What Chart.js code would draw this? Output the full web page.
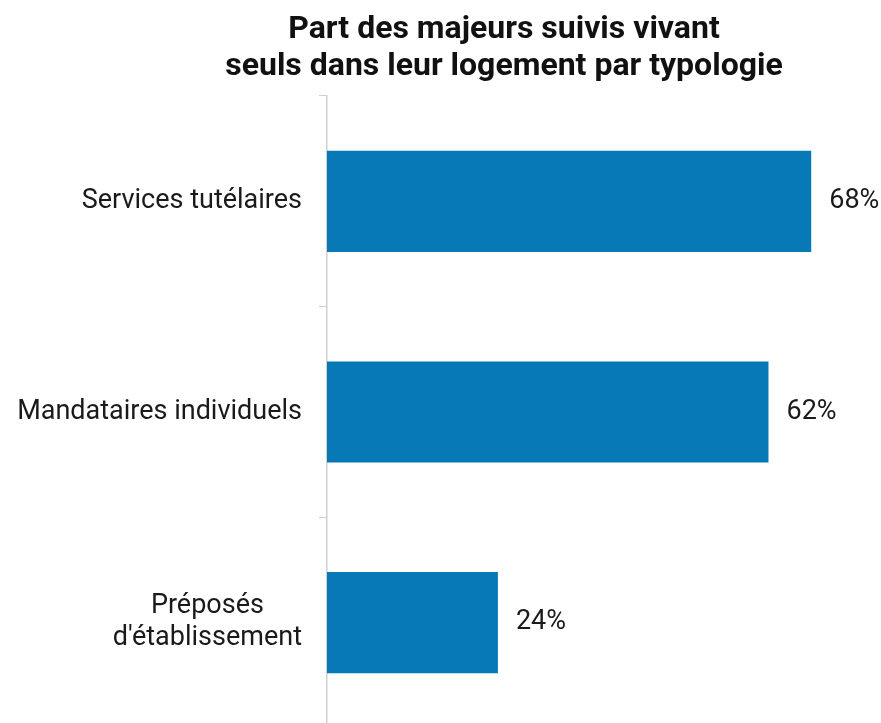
<!DOCTYPE html>
<html>
<head>
<meta charset="utf-8">
<script src="https://cdn.jsdelivr.net/npm/chart.js@4"></script>
<style>
  html, body { margin: 0; padding: 0; background: #fff; overflow: hidden; }
  #wrap { width: 881px; height: 728px; }
</style>
</head>
<body>
<div id="wrap"><canvas id="chart"></canvas></div>
<script>
// Data
const titleLines = ['Part des majeurs suivis vivant', 'seuls dans leur logement par typologie'];
const categories = [['Services tutélaires'], ['Mandataires individuels'], ['Préposés', "d'établissement"]];
const values = [68, 62, 24];

const barColor = '#0779B7';
const textColor = '#1a1a1a';

// Draws title, category labels and value labels
const textPlugin = {
    id: 'textPlugin',
    afterDraw(chart) {
        const ctx = chart.ctx;
        ctx.save();

        // title
        ctx.fillStyle = '#111';
        ctx.font = 'bold 32px Roboto';
        ctx.textAlign = 'center';
        ctx.textBaseline = 'alphabetic';
        ctx.fillText(titleLines[0], 504, 38);
        ctx.fillText(titleLines[1], 504, 75);

        // category labels (multi-line ones centred on their block)
        const yScale = chart.scales.y;
        ctx.font = '27px Roboto';
        ctx.fillStyle = textColor;
        ctx.textBaseline = 'middle';
        const rightEdge = yScale.right - 25;
        categories.forEach((lines, i) => {
            const yc = yScale.getPixelForValue(i);
            const w = Math.max(...lines.map(l => ctx.measureText(l).width));
            const lh = 32;
            lines.forEach((line, j) => {
                ctx.textAlign = 'center';
                ctx.fillText(line, rightEdge - w / 2, yc + (j - (lines.length - 1) / 2) * lh);
            });
        });

        // value labels
        const meta = chart.getDatasetMeta(0);
        ctx.textAlign = 'left';
        meta.data.forEach((bar, i) => {
            ctx.fillText(values[i] + '%', bar.x + 18, bar.y);
        });
        ctx.restore();
    }
};

const chart = new Chart(document.getElementById('chart').getContext('2d'), {
    type: 'bar',
    data: {
        labels: categories.map(c => c.join(' ')),
        datasets: [{
            data: values,
            backgroundColor: barColor,
            barPercentage: 0.48,
            categoryPercentage: 1
        }]
    },
    options: {
        indexAxis: 'y',
        responsive: true,
        maintainAspectRatio: false,
        animation: false,
        layout: { padding: { top: 96, right: 0, bottom: 0, left: 0 } },
        plugins: {
            legend: { display: false },
            title: { display: false },
            tooltip: { enabled: false }
        },
        scales: {
            x: {
                display: false,
                min: 0,
                max: 77.8
            },
            y: {
                afterFit(scale) { scale.width = 327; },
                grid: {
                    drawOnChartArea: false,
                    tickLength: 8,
                    color: '#d0d0d0'
                },
                border: { color: '#d0d0d0', width: 1.5 },
                ticks: { display: false }
            }
        }
    },
    plugins: [textPlugin]
});
</script>
</body>
</html>
